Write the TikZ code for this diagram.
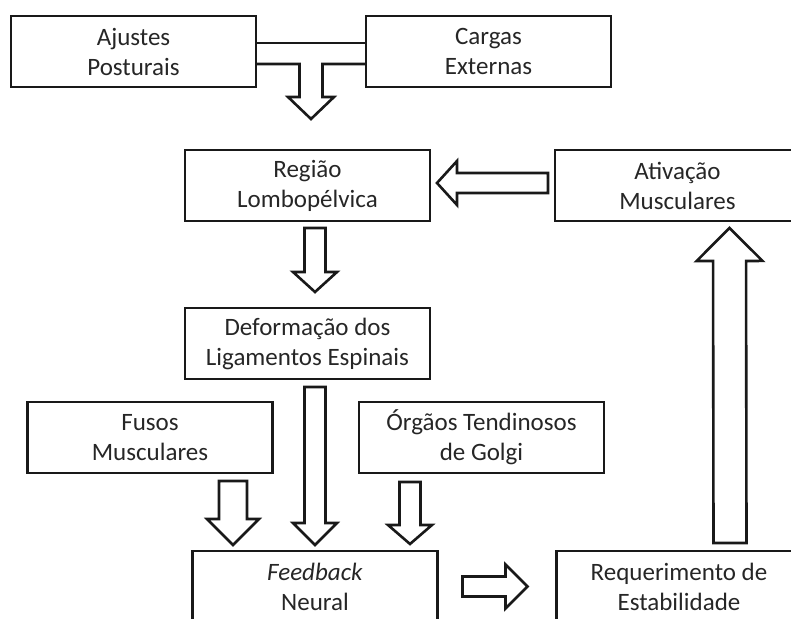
\documentclass[tikz,border=0pt]{standalone}
\usepackage{fontspec}
\setmainfont{Carlito}
\usetikzlibrary{positioning}
\usetikzlibrary{calc}
\tikzset{arrShaft/.store in=\arrShaft, arrHead/.store in=\arrHead, arrLen/.store in=\arrLen,
  arrShaft=5.25pt, arrHead=11pt, arrLen=10pt}
\tikzstyle{stepBox} = [rectangle, draw=black!90, line width=1.4pt, outer sep=0pt, minimum width=122.5pt, minimum height=35.5pt, align=center, text=black!85, font=\fontsize{12.5}{15}\selectfont]
\tikzstyle{blockLine} = [draw=black!90, line width=1.3pt, line join=miter]
\tikzstyle{blockArrow} = [blockLine, to path={let \p1=(\tikztostart), \p2=(\tikztotarget), \n1={atan2(\y2-\y1,\x2-\x1)} in
    ($(\p1)+(\n1+90:\arrShaft)$) -- ($(\p2)+(\n1+180:\arrLen)+(\n1+90:\arrShaft)$)
    -- ($(\p2)+(\n1+180:\arrLen)+(\n1+90:\arrHead)$) -- (\p2)
    -- ($(\p2)+(\n1+180:\arrLen)+(\n1-90:\arrHead)$) -- ($(\p2)+(\n1+180:\arrLen)+(\n1-90:\arrShaft)$)
    -- ($(\p1)+(\n1-90:\arrShaft)$) -- cycle}]

\begin{document}
\begin{tikzpicture}[x=0.5pt, y=-0.5pt]
    \useasboundingbox (0,0) rectangle (791,619);
    \clip (0,0) rectangle (791,619);

    \node (ajustes) at (133.5,51.5) [stepBox] {Ajustes\\Posturais};
    \node (cargas) [right=55pt of ajustes, stepBox] {Cargas\\Externas};
    \node (regiao) at (307.5,185.5) [stepBox] {Região\\Lombopélvica};
    \node (ativacao) [right=62.5pt of regiao, stepBox] {Ativação\\Musculares};
    \node (deform) [below=43.5pt of regiao, stepBox] {Deformação dos\\Ligamentos Espinais};
    \node (fusos) at (150,437.5) [stepBox] {Fusos\\Musculares};
    \node (orgaos) at (481.5,437.5) [stepBox] {Órgãos Tendinosos\\de Golgi};
    \node (feedback) at (315,586.5) [stepBox] {\textit{Feedback}\\Neural};
    \node (requer) [right=59.5pt of feedback, stepBox] {Requerimento de\\Estabilidade};

    % T-shaped joint between the two top boxes
    \coordinate (tTip) at ($(ajustes.east)!0.5!(cargas.west)+(0,67.5)$);
    \draw [blockLine] ($(ajustes.east)+(0,-8.5)$) -- ($(cargas.west)+(0,-8.5)$);
    \draw [blockLine] ($(ajustes.east)+(0,12.5)$) -| ($(tTip)+(-11.5,-22)$) -- ($(tTip)+(-23,-22)$) -- (tTip)
        -- ($(tTip)+(23,-22)$) -- ($(tTip)+(11.5,-22)$) |- ($(cargas.west)+(0,12.5)$);

    \draw [blockArrow] ($(regiao.south)+(7.5,7)$) to ($(deform.north)+(7.5,-16)$);
    \draw [blockArrow, arrShaft=5pt] ($(ativacao.west)+(-7,-2.5)$) to ($(regiao.east)+(7,-2.5)$);
    \draw [blockArrow, arrLen=11pt] ($(deform.south)+(7.5,8)$) to ($(feedback.north)+(0,-6)$);
    \draw [blockArrow, arrShaft=7pt, arrHead=13pt, arrLen=13pt] ($(fusos.south)+(83,8)$) to ($(feedback.north)+(-82,-6)$);
    \draw [blockArrow, arrLen=9.5pt] ($(orgaos.south)+(-71.5,9)$) to ($(feedback.north)+(95,-7)$);
    \draw [blockArrow, arrShaft=5pt, arrLen=11pt] ($(feedback.east)+(25,0)$) to ($(requer.west)+(-29,0)$);
    \draw [blockArrow, arrShaft=8.25pt, arrHead=16.5pt, arrLen=16.5pt] ($(requer.north)+(51,-8)$) to ($(ativacao.south)+(52,7)$);
\end{tikzpicture}
\end{document}
